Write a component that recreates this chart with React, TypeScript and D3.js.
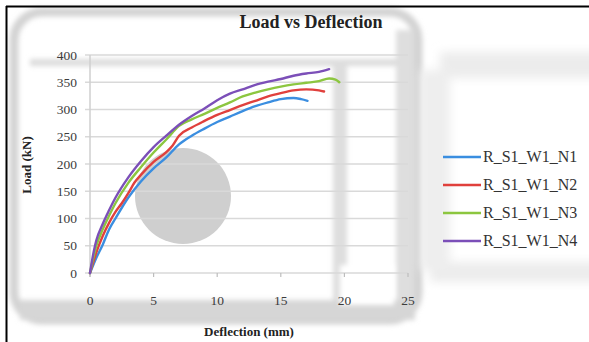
import React from "react";
import * as d3 from "d3";

const seriesNames = ["R_S1_W1_N1", "R_S1_W1_N2", "R_S1_W1_N3", "R_S1_W1_N4"];
const seriesColors = ["#3a8ee0", "#e0403c", "#8cc63f", "#7b4fb8"];

const n1: [number, number][] = [
  [0, 0], [0.5, 28], [1, 52], [1.5, 80], [2, 100], [3, 138], [4, 168], [5, 192], [6, 212],
  [7, 236], [8, 252], [9, 265], [10, 277], [11, 287], [12, 297], [13, 306], [14, 313],
  [15, 319], [16, 321], [16.6, 319], [17.1, 316],
];
const n2: [number, number][] = [
  [0, 0], [0.5, 38], [1, 68], [1.5, 92], [2, 112], [2.5, 128], [3, 146], [3.5, 166], [4, 180],
  [5, 204], [6, 222], [6.5, 234], [7, 252], [8, 267], [9, 279], [10, 290], [11, 299],
  [12, 308], [13, 316], [14, 324], [15, 330], [16, 335], [17, 337], [18, 335], [18.4, 333],
];
const n3: [number, number][] = [
  [0, 0], [0.5, 50], [1, 80], [1.5, 105], [2, 128], [3, 165], [4, 194], [5, 221], [6, 245],
  [7, 270], [8, 282], [9, 292], [10, 303], [11, 313], [12, 324], [13, 331], [14, 337],
  [15, 342], [16, 346], [17, 349], [18, 352], [18.8, 357], [19.3, 355], [19.6, 350],
];
const n4: [number, number][] = [
  [0, 0], [0.3, 40], [0.5, 60], [1, 90], [1.5, 115], [2, 138], [3, 175], [4, 205], [5, 231],
  [6, 252], [7, 272], [8, 288], [9, 302], [10, 317], [11, 329], [12, 337], [13, 345],
  [14, 351], [15, 356], [16, 362], [17, 366], [18, 369], [18.8, 374],
];
const seriesData = [n1, n2, n3, n4];

const xTicks = [0, 5, 10, 15, 20, 25];
const yTicks = [0, 50, 100, 150, 200, 250, 300, 350, 400];

export default function App() {
  const W = 589, H = 342;
  const x = d3.scaleLinear().domain([0, 25]).range([90, 408]);
  const y = d3.scaleLinear().domain([0, 400]).range([273, 55]);
  const line = d3.line<[number, number]>().x(d => x(d[0])).y(d => y(d[1])).curve(d3.curveMonotoneX);
  const font = "'Liberation Serif', 'Times New Roman', serif";

  return (
    <svg width={W} height={H} style={{ position: "absolute", left: 0, top: 0, background: "#fff", fontFamily: font }}>
      <defs>
        <filter id="blur" x="-20%" y="-20%" width="140%" height="140%">
          <feGaussianBlur stdDeviation="2.5" />
        </filter>
        <filter id="blur2" x="-20%" y="-50%" width="140%" height="200%">
          <feGaussianBlur stdDeviation="5" />
        </filter>
        <filter id="soft">
          <feGaussianBlur stdDeviation="0.5" />
        </filter>
      </defs>
      <rect x={0} y={0} width={W} height={H} fill="#fff" />
      {/* scan artifacts */}
      <g filter="url(#blur)">
        <rect x={14} y={12} width={404} height={308} rx={28} fill="none" stroke="#d3d3d3" strokeWidth={9} />
        <rect x={30} y={59} width={368} height={7} fill="#dcdcdc" />
        <rect x={333} y={62} width={14} height={240} fill="#dedede" />
        <rect x={396} y={30} width={18} height={280} fill="#dedede" />
        <rect x={20} y={300} width={395} height={20} fill="#d6d6d6" />
      </g>
      <g filter="url(#blur2)">
        <rect x={440} y={52} width={160} height={26} fill="#ececec" />
        <rect x={430} y={262} width={170} height={20} fill="#ececec" />
        <rect x={420} y={70} width={30} height={200} fill="#eeeeee" />
      </g>
      <rect x={340} y={265} width={54} height={40} fill="#fff" filter="url(#blur)" />
      <circle cx={183} cy={196} r={48} fill="#cfcfcf" />

      {/* border */}
      <line x1={6} y1={6.5} x2={W} y2={6.5} stroke="#000" strokeWidth={2} />
      <line x1={6.5} y1={6} x2={6.5} y2={H} stroke="#000" strokeWidth={2} />

      {/* title */}
      <text x={311} y={28} textAnchor="middle" fontSize={18} fontWeight="bold" fill="#222" fontFamily={font}>Load vs Deflection</text>

      {/* gridlines */}
      {yTicks.map(t => (
        <line key={t} x1={85} x2={408} y1={y(t)} y2={y(t)} stroke="#d9d9d9" strokeWidth={1.5} />
      ))}
      <line x1={x(0)} x2={x(0)} y1={y(400)} y2={y(0) + 4} stroke="#cfcfcf" strokeWidth={1.5} />
      {xTicks.map(t => (
        <line key={t} x1={x(t)} x2={x(t)} y1={y(0)} y2={y(0) + 4} stroke="#bdbdbd" strokeWidth={1.2} />
      ))}
      {yTicks.map(t => (
        <text key={t} x={77} y={y(t) + 4.5} textAnchor="end" fontSize={13.5} fill="#3c3c3c" fontFamily={font}>{t}</text>
      ))}
      {xTicks.map(t => (
        <text key={t} x={x(t)} y={305} textAnchor="middle" fontSize={13.5} fill="#3c3c3c" fontFamily={font}>{t}</text>
      ))}

      {/* series */}
      <g filter="url(#soft)">
        {seriesData.map((d, i) => (
          <path key={i} d={line(d) || ""} fill="none" stroke={seriesColors[i]} strokeWidth={2.4} strokeLinejoin="round" strokeLinecap="round" />
        ))}
      </g>

      {/* axis titles */}
      <text x={249} y={336} textAnchor="middle" fontSize={13} fontWeight="bold" fill="#222" fontFamily={font}>Deflection (mm)</text>
      <text transform="translate(31,165) rotate(-90)" textAnchor="middle" fontSize={13} fontWeight="bold" fill="#222" fontFamily={font}>Load (kN)</text>

      {/* legend */}
      {seriesNames.map((n, i) => {
        const ly = 157 + i * 28;
        return (
          <g key={n}>
            <line x1={443} x2={481} y1={ly} y2={ly} stroke={seriesColors[i]} strokeWidth={2.6} />
            <text x={483} y={ly + 5} fontSize={16} fill="#333" fontFamily={font}>{n}</text>
          </g>
        );
      })}
    </svg>
  );
}
